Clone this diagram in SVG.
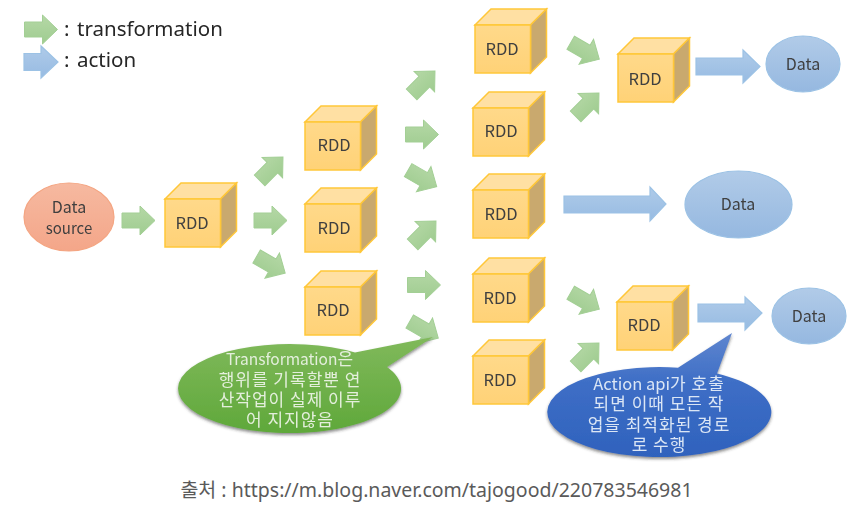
<svg xmlns="http://www.w3.org/2000/svg" width="856" height="505" viewBox="0 0 856 505">
<style>
.n{font-family:"Noto Sans CJK KR","Noto Sans",sans-serif;font-size:16px;fill:#3f3f3f;text-anchor:middle;transform:translateY(1px)}
.r{font-size:16.5px}
.sm{font-size:15px}
.c{font-family:"Noto Sans CJK KR","Noto Sans",sans-serif;font-size:17px;letter-spacing:1px;fill:#e4efdc;text-anchor:middle}
.lat{font-size:15.500px;letter-spacing:0}
.lat2{font-size:16.500px;letter-spacing:0}
.b{fill:#dbe6f5}
.l{font-family:"Noto Sans","Noto Sans CJK KR",sans-serif;font-size:20.500px;fill:#262626}
.cap{font-family:"Noto Sans","Noto Sans CJK KR",sans-serif;font-size:19.500px;fill:#5a5a5a;text-anchor:middle}
.blur{filter:url(#soft)}
.ga{fill:url(#gg);stroke:#a3cf95;stroke-width:1}
.ba{fill:url(#bg);stroke:#9cc2e5;stroke-width:1.2}
.f{fill:url(#cf);stroke:#ffc738;stroke-width:1.5}
.t{fill:#ffe0a3;stroke:#ffc738;stroke-width:1.5}
.s{fill:#c9a96e;stroke:#ffc738;stroke-width:1.5}
.de{fill:url(#de);stroke:#9cc2e5;stroke-width:1.2}
</style>
<defs>
<filter id="soft" x="-5%" y="-5%" width="110%" height="110%"><feGaussianBlur stdDeviation="0.45"/></filter>
<filter id="sh" x="-10%" y="-10%" width="120%" height="125%"><feDropShadow dx="0" dy="2" stdDeviation="1.5" flood-color="#333" flood-opacity="0.55"/></filter>
<linearGradient id="gg" x1="0" y1="0" x2="0" y2="1"><stop offset="0" stop-color="#b5d8a6"/><stop offset="1" stop-color="#9fcc90"/></linearGradient>
<linearGradient id="bg" x1="0" y1="0" x2="0" y2="1"><stop offset="0" stop-color="#afcbe9"/><stop offset="1" stop-color="#97bbe2"/></linearGradient>
<linearGradient id="de" x1="0" y1="0" x2="0" y2="1"><stop offset="0" stop-color="#b1cbe8"/><stop offset="1" stop-color="#95b8e0"/></linearGradient>
<linearGradient id="cf" x1="0" y1="0" x2="0" y2="1"><stop offset="0" stop-color="#ffd98a"/><stop offset="1" stop-color="#ffd277"/></linearGradient>
<linearGradient id="se" x1="0" y1="0" x2="0" y2="1"><stop offset="0" stop-color="#f6b9a0"/><stop offset="1" stop-color="#f4a689"/></linearGradient>
<linearGradient id="gc" x1="0" y1="0" x2="0" y2="1"><stop offset="0" stop-color="#80b95b"/><stop offset="1" stop-color="#5fa83a"/></linearGradient>
<linearGradient id="bc" x1="0" y1="0" x2="0" y2="1"><stop offset="0" stop-color="#5f86cf"/><stop offset="0.4" stop-color="#3e6ec6"/><stop offset="1" stop-color="#2f62bd"/></linearGradient>
<polygon id="ar" class="ga" points="-16.5,-7.5 1.5,-7.5 1.5,-14.5 16.5,0 1.5,14.5 1.5,7.5 -16.5,7.5"/>
<g id="cube">
<polygon class="t" points="0,16 16,0 71.5,0 55.5,16"/>
<polygon class="s" points="55.5,16 71.5,0 71.5,48 55.5,64"/>
<rect class="f" x="0" y="16" width="55.5" height="48"/>
</g>
</defs>
<rect width="856" height="505" fill="#ffffff"/>
<g class="blur">
<g id="legend">
<use href="#ar" x="41" y="29.5"/>
<polygon class="ba" points="24,53.5 41,53.5 41,46 58,62 41,78 41,70.5 24,70.5"/>
<text class="l" y="36"><tspan x="64">:</tspan><tspan x="77">transformation</tspan></text>
<text class="l" y="67"><tspan x="64">:</tspan><tspan x="77">action</tspan></text>
</g>
<g id="connectors">
<use href="#ar" x="138.5" y="220.5"/>
<use href="#ar" transform="translate(271.3 168.7) rotate(-45)"/>
<use href="#ar" x="270.5" y="220.5"/>
<use href="#ar" transform="translate(270.9 264.8) rotate(30)"/>
<use href="#ar" transform="translate(423.3 82.7) rotate(-45)"/>
<use href="#ar" x="422" y="134.5"/>
<use href="#ar" transform="translate(422.4 178.4) rotate(30)"/>
<use href="#ar" transform="translate(424.3 232.7) rotate(-45)"/>
<use href="#ar" x="424" y="285"/>
<use href="#ar" transform="translate(424 329.8) rotate(30)"/>
<use href="#ar" transform="translate(585 51) rotate(30)"/>
<use href="#ar" transform="translate(587.3 104.7) rotate(-45)"/>
<use href="#ar" transform="translate(585 301) rotate(30)"/>
<use href="#ar" transform="translate(587.3 354.7) rotate(-45)"/>
<polygon class="ba" points="696,58 743,58 743,50 760,66.500 743,83 743,75 696,75"/>
<polygon class="ba" points="564,196 650,196 650,187 666,204 650,221 650,213 564,213"/>
<polygon class="ba" points="698,304 745,304 745,297 762,313 745,330 745,322 698,322"/>
</g>
<g id="source"><ellipse cx="69" cy="217" rx="45" ry="34" fill="url(#se)" stroke="#f4a582" stroke-width="1.2"/><text class="n" x="69" y="212">Data</text><text class="n sm" x="69" y="233">source</text></g>
<g id="rdd1"><use href="#cube" x="165" y="183"/><text class="n r" x="192" y="228">RDD</text></g>
<g id="rdd2"><use href="#cube" x="305" y="106"/><text class="n r" x="334" y="150">RDD</text></g>
<g id="rdd3"><use href="#cube" x="305" y="188"/><text class="n r" x="334" y="233">RDD</text></g>
<g id="rdd4"><use href="#cube" x="305" y="271"/><text class="n r" x="333" y="315">RDD</text></g>
<g id="rdd5"><use href="#cube" x="475" y="9"/><text class="n r" x="502" y="54">RDD</text></g>
<g id="rdd6"><use href="#cube" x="473" y="92"/><text class="n r" x="501" y="136">RDD</text></g>
<g id="rdd7"><use href="#cube" x="473" y="174"/><text class="n r" x="501" y="219">RDD</text></g>
<g id="rdd8"><use href="#cube" x="473" y="258"/><text class="n r" x="500" y="303">RDD</text></g>
<g id="rdd9"><use href="#cube" x="473" y="340"/><text class="n r" x="500" y="385">RDD</text></g>
<g id="rdd10"><use href="#cube" x="618" y="38"/><text class="n r" x="645" y="84">RDD</text></g>
<g id="rdd11"><use href="#cube" x="617" y="286"/><text class="n r" x="644" y="330">RDD</text></g>
<g id="data1"><ellipse class="de" cx="803" cy="64" rx="37" ry="28"/><text class="n" x="803" y="69">Data</text></g>
<g id="data2"><ellipse class="de" cx="738.500" cy="204.500" rx="53.500" ry="33.500"/><text class="n" x="738" y="209">Data</text></g>
<g id="data3"><ellipse class="de" cx="809" cy="316" rx="37" ry="28"/><text class="n" x="809" y="321">Data</text></g>
<g id="note-transformation">
<path d="M355 352.500 L433 337 L387 366.900 A111.500 44.500 0 1 1 355 352.500 Z" fill="url(#gc)" filter="url(#sh)"/>
<text class="c" x="290" y="365"><tspan class="lat">Transformation</tspan>은</text>
<text class="c" x="290" y="386">행위를 기록할뿐 연</text>
<text class="c" x="290" y="406">산작업이 실제 이루</text>
<text class="c" x="290" y="426">어 지지않음</text>
</g>
<g id="note-action">
<path d="M678 367.700 L732 333 L717 373.500 A112 45 0 1 1 678 367.700 Z" fill="url(#bc)" filter="url(#sh)"/>
<text class="c b" x="659" y="390"><tspan class="lat2">Action api</tspan>가 호출</text>
<text class="c b" x="659" y="410">되면 이때 모든 작</text>
<text class="c b" x="659" y="431">업을 최적화된 경로</text>
<text class="c b" x="659" y="451">로 수행</text>
</g>
</g>
<text class="cap" x="436.500" y="497">출처 : https://m.blog.naver.com/tajogood/220783546981</text>
</svg>
